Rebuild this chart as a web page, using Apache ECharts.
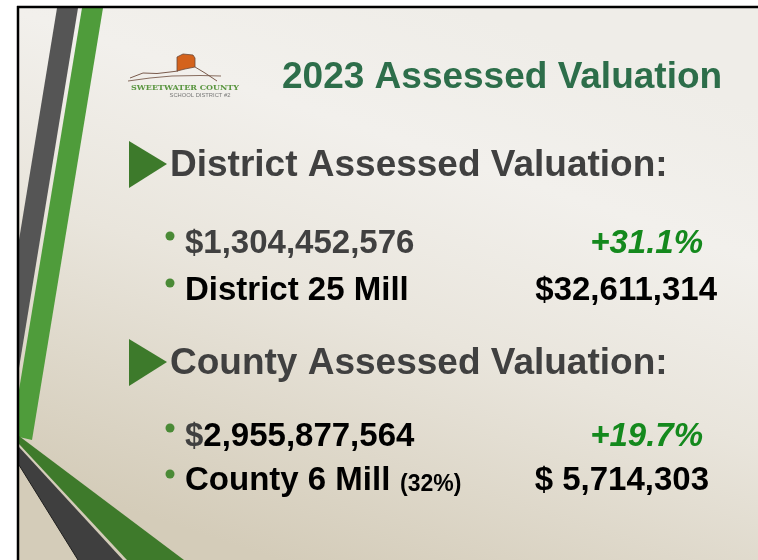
<!DOCTYPE html>
<html>
<head>
<meta charset="utf-8">
<script src="https://cdn.jsdelivr.net/npm/echarts@6.0.0/dist/echarts.min.js"></script>
<style>
  html, body { margin: 0; padding: 0; background: #ffffff; }
  #slide { width: 758px; height: 560px; }
</style>
</head>
<body>
<div id="slide"></div>
<script>
  // slide text values
  var slideTitle = '2023 Assessed Valuation';
  var sectionTitles = ['District Assessed Valuation:', 'County Assessed Valuation:'];
  var valuations = ['$1,304,452,576', '$2,955,877,564'];
  var changes = ['+31.1%', '+19.7%'];
  var millLabels = ['District 25 Mill', 'County 6 Mill'];
  var millNotes = ['', '(32%)'];
  var millValues = ['$32,611,314', '$ 5,714,303'];
  var logoLines = ['SWEETWATER COUNTY', 'SCHOOL DISTRICT #2'];

  var slideDom = document.getElementById('slide');

  var mySlide = echarts.init(slideDom, null, {
    renderer: 'canvas',
    useDirtyRect: false
  });

  var FONT = '"Liberation Sans", Arial, sans-serif';
  var GREY_TEXT = '#404040';
  var TRI_GREEN = '#3d7a2b';
  var DOT_GREEN = '#4a8a36';
  var PCT_GREEN = '#14891d';

  function txt(str, x, y, size, color, align, italic) {
    return {
      type: 'text',
      z: 10,
      style: {
        text: str,
        x: x,
        y: y,
        font: (italic ? 'italic ' : '') + 'bold ' + size + 'px ' + FONT,
        fill: color,
        textAlign: align || 'left',
        align: align || 'left',
        textVerticalAlign: 'middle',
        verticalAlign: 'middle'
      }
    };
  }

  function poly(points, color, z) {
    return {
      type: 'polygon',
      z: z || 2,
      shape: { points: points },
      style: { fill: color }
    };
  }

  function dot(x, y) {
    return {
      type: 'circle',
      z: 10,
      shape: { cx: x, cy: y, r: 4.5 },
      style: { fill: DOT_GREEN }
    };
  }

  var elements = [];

  // background
  elements.push({
    type: 'rect',
    z: 0,
    shape: { x: 19, y: 8, width: 739, height: 552 },
    style: {
      fill: new echarts.graphic.LinearGradient(0.6, 0, 0.35, 1, [
        { offset: 0, color: '#efede8' },
        { offset: 0.25, color: '#f2f0ec' },
        { offset: 0.55, color: '#e9e5dc' },
        { offset: 1, color: '#d4ccb9' }
      ])
    }
  });

  // frame lines
  elements.push({ type: 'line', z: 20, shape: { x1: 18, y1: 6, x2: 18, y2: 560 }, style: { stroke: '#000', lineWidth: 2.5 } });
  elements.push({ type: 'line', z: 20, shape: { x1: 17, y1: 7, x2: 758, y2: 7 }, style: { stroke: '#000', lineWidth: 2.5 } });

  // left decoration stripes
  elements.push(poly([[57, 8], [78, 8], [19, 368], [19, 240]], '#555555'));
  elements.push(poly([[82, 8], [103, 8], [32, 440], [19, 437], [19, 390]], '#4f9c3b'));
  elements.push(poly([[19, 436], [184, 560], [127, 560], [19, 444]], '#3e7a2b'));
  elements.push(poly([[19, 447], [123, 560], [78, 560], [19, 465]], '#3f3f3f'));
  elements.push({ type: 'line', z: 3, shape: { x1: 19, y1: 465, x2: 78, y2: 560 }, style: { stroke: '#1e1e1e', lineWidth: 1 } });

  // logo
  elements.push(poly([[177, 57], [183, 54], [193, 55], [195, 58], [195, 67], [185, 69], [177, 71]], '#d4621c', 5));
  elements.push({ type: 'polyline', z: 6, shape: { points: [[177, 57], [183, 54], [193, 55], [195, 58], [195, 67], [185, 69], [177, 71], [177, 57]] }, style: { stroke: '#6b4a3a', lineWidth: 0.8, fill: null } });
  elements.push({ type: 'polyline', z: 6, shape: { points: [[130, 78], [143, 73], [157, 73.5], [170, 72], [178, 71]] }, style: { stroke: '#6b4a3a', lineWidth: 0.9, fill: null } });
  elements.push({ type: 'polyline', z: 6, shape: { points: [[195, 67], [205, 73], [217, 81]] }, style: { stroke: '#6b4a3a', lineWidth: 0.9, fill: null } });
  elements.push({ type: 'polyline', z: 6, shape: { points: [[128, 81], [150, 78], [172, 76], [200, 75.5], [221, 76]] }, style: { stroke: '#6b4a3a', lineWidth: 0.8, fill: null } });
  elements.push({
    type: 'text', z: 10,
    style: { text: logoLines[0], x: 185, y: 87.5, font: 'bold 8px "DejaVu Serif", serif', fill: '#5a9640', textAlign: 'center', align: 'center', textVerticalAlign: 'middle', verticalAlign: 'middle' }
  });
  elements.push({
    type: 'text', z: 10,
    style: { text: logoLines[1], x: 200, y: 95, font: '5.8px ' + FONT, fill: '#777777', textAlign: 'center', align: 'center', textVerticalAlign: 'middle', verticalAlign: 'middle' }
  });

  // title
  elements.push(txt(slideTitle, 282, 78, 37, '#2d6e4a'));

  // sections
  var headY = [166, 364];
  var valY = [244, 437];
  var millY = [291, 481];
  var dotY = [[236, 283], [428, 474]];

  for (var i = 0; i < sectionTitles.length; i++) {
    var hy = headY[i];
    elements.push(poly([[129, hy - 25], [129, hy + 22], [167, hy - 2]], TRI_GREEN, 5));
    elements.push(txt(sectionTitles[i], 170, hy, 37, GREY_TEXT));

    elements.push(dot(170, dotY[i][0]));
    elements.push(dot(170, dotY[i][1]));

    if (i === 0) {
      elements.push(txt(valuations[i], 185, valY[i], 33, GREY_TEXT));
    } else {
      // grey dollar sign, black digits
      elements.push(txt(valuations[i].charAt(0), 185, valY[i], 33, GREY_TEXT));
      elements.push(txt(valuations[i].slice(1), 203.3, valY[i], 33, '#000000'));
    }
    elements.push(txt(changes[i], 703, valY[i], 33, PCT_GREEN, 'right', true));

    elements.push(txt(millLabels[i], 185, millY[i], 33, '#000000'));
    if (millNotes[i]) {
      elements.push(txt(millNotes[i], 400, millY[i] + 3.5, 23, '#000000'));
    }
    elements.push(txt(millValues[i], i === 0 ? 717 : 709, millY[i], 33, '#000000', 'right'));
  }

  var slideOptions = {
    backgroundColor: '#ffffff',
    animation: false,
    graphic: { elements: elements }
  };

  if (slideOptions && typeof slideOptions === 'object') {
    mySlide.setOption(slideOptions);
  }

  window.addEventListener('resize', mySlide.resize);
</script>
</body>
</html>
